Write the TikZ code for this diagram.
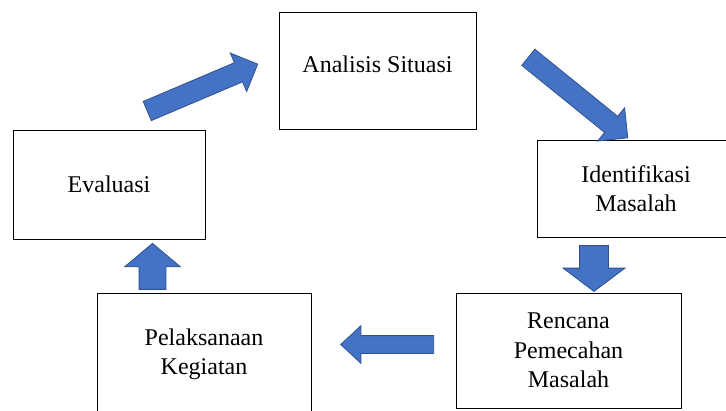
\documentclass[tikz,border=0pt]{standalone}
\usepackage{fontspec}
\setmainfont{Liberation Serif}
\usepackage{tikz}
\usetikzlibrary{shapes.arrows}
\usetikzlibrary{positioning}
\definecolor{flowfill}{HTML}{4472C4}
\definecolor{flowline}{HTML}{2F528F}
\tikzset{stage/.style={rectangle,draw=black,line width=1pt,fill=white,align=center,inner sep=0pt,font=\fontsize{24}{29.5}\selectfont}}
\tikzset{flow/.style={single arrow,fill=flowfill,draw=flowline,line width=0.8pt,inner xsep=0pt,single arrow tip angle=90}}

\begin{document}
\begin{tikzpicture}[x=1pt,y=-1pt]
\clip (0,0) rectangle (726,410);
\fill[white] (0,0) rectangle (726,410);

\node[stage,minimum width=197pt,minimum height=117pt,text height=16pt,text depth=13pt] (aS) at (377.5,70.5) {Analisis Situasi};
\node[stage,minimum width=198pt,minimum height=97pt] (iM) at (636,188.5) {Identifikasi\\Masalah};
\node[stage,minimum width=225pt,minimum height=115pt] (rP) at (568.5,350.5) {Rencana\\Pemecahan\\Masalah};
\node[stage,minimum width=214pt,minimum height=123pt] (pK) at (204,354.5) {Pelaksanaan\\Kegiatan};
\node[stage,minimum width=192pt,minimum height=109pt] (ev) at (109,184.5) {Evaluasi};

\node[flow,minimum height=120pt,inner ysep=10pt,single arrow head extend=10.5pt,rotate=23] (eA) at (197.7,89.6) {};
\node[flow,minimum height=128pt,inner ysep=10pt,single arrow head extend=11pt,rotate=-39] (aI) at (574,94.3) {};
\node[flow,minimum height=46pt,inner ysep=14pt,single arrow head extend=16.5pt,single arrow tip angle=106,rotate=-90] (iR) at (594,263) {};
\node[flow,minimum height=93pt,inner ysep=8.5pt,single arrow head extend=10pt,single arrow tip angle=86,rotate=180] (rPk) at (392,344.5) {};
\node[flow,minimum height=46pt,inner ysep=13pt,single arrow head extend=14.5pt,single arrow tip angle=100,rotate=90] (pE) at (152.5,272) {};

\end{tikzpicture}
\end{document}
